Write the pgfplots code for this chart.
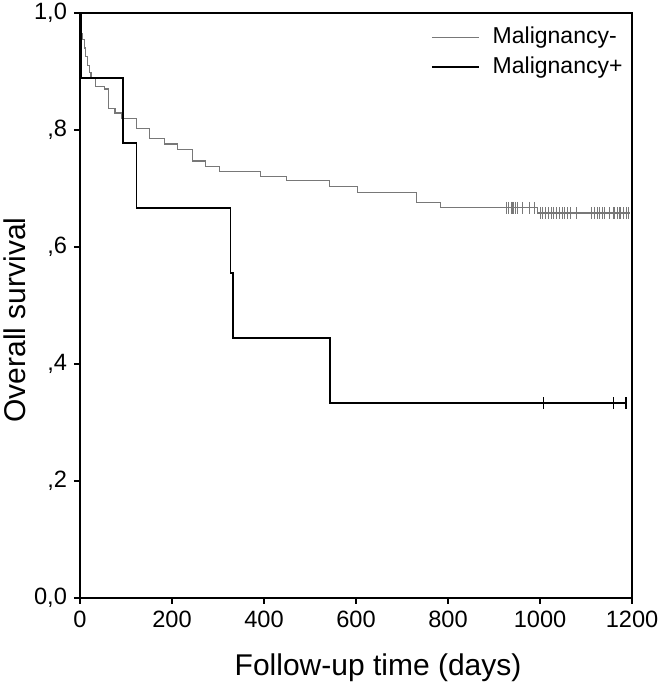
\documentclass[border=0pt]{standalone}
\usepackage{pgfplots}
\pgfplotsset{compat=1.18}
\usepackage{fontspec}
\setmainfont{Liberation Sans}
\definecolor{kmgray}{RGB}{120,120,120}
\begin{document}
\begin{tikzpicture}
\begin{axis}[
  scale only axis, width=276pt, height=292.5pt,
  xmin=0, xmax=1200, ymin=0, ymax=1,
  xtick={0,200,400,600,800,1000,1200},
  xticklabels={0,200,400,600,800,1000,1200},
  ytick={0,0.2,0.4,0.6,0.8,1},
  yticklabels={{0,0},{,2},{,4},{,6},{,8},{1,0}},
  tick pos=left, tick align=outside, major tick length=3pt,
  every tick/.style={black, line width=1pt},
  axis line style={line width=0.6pt},
  tick label style={font=\fontsize{11.8}{14}\selectfont},
  xlabel={Follow-up time (days)}, ylabel={Overall survival},
  label style={font=\fontsize{15}{18}\selectfont},
  xlabel style={at={(axis description cs:0.54,-0.12)}, anchor=center},
  ylabel style={at={(axis description cs:-0.118,0.475)}, anchor=center},
  legend style={draw=none, fill=none, inner sep=0pt,
    at={(axis description cs:0.635,0.979)}, anchor=north west,
    font=\fontsize{11.5}{14}\selectfont,
    nodes={inner ysep=0pt, inner xsep=3pt, text height=9pt, text depth=2.5pt},
    row sep=3.5pt, column sep=3.5pt},
  legend cell align=left,
  legend image code/.code={\draw[#1] (0pt,0pt) -- (23.5pt,0pt);},
  clip=false,
]
\addplot[const plot, kmgray, line width=0.6pt] coordinates {
(0,1.0) (2,0.965) (5,0.955) (9,0.94) (12,0.925) (16,0.91) (20,0.898)
(24,0.888) (33,0.875) (53,0.870) (62,0.837) (76,0.829) (91,0.820)
(123,0.803) (151,0.786) (183,0.776) (212,0.767) (245,0.747) (272,0.738)
(303,0.729) (393,0.721) (449,0.713) (543,0.703) (603,0.693) (732,0.676)
(783,0.667) (994,0.658) (1196,0.658)
};
\addlegendentry{Malignancy-}
\addplot[const plot, black, line width=0.9pt] coordinates {
(0,1.0) (3,0.889) (93,0.778) (123,0.667) (327,0.556) (333,0.444)
(543,0.333) (1187,0.333)
};
\addlegendentry{Malignancy+}
\addplot[only marks, mark=|, mark size=3pt, kmgray, forget plot,
  mark options={line width=0.5pt}] coordinates {
(928,0.667) (932,0.667) (937,0.667) (940,0.667) (943,0.667) (946,0.667)
(950,0.667) (963,0.667) (978,0.667) (987,0.667)
(1000,0.658) (1006,0.658) (1012,0.658) (1018,0.658) (1025,0.658)
(1030,0.658) (1036,0.658) (1042,0.658) (1048,0.658) (1054,0.658)
(1060,0.658) (1067,0.658) (1080,0.658) (1113,0.658) (1118,0.658)
(1124,0.658) (1130,0.658) (1135,0.658) (1141,0.658) (1152,0.658)
(1159,0.658) (1163,0.658) (1168,0.658) (1172,0.658) (1176,0.658)
(1181,0.658) (1187,0.658) (1193,0.658)
};
\addplot[only marks, mark=|, mark size=3pt, black, forget plot,
  mark options={line width=0.6pt}] coordinates {
(1007,0.333) (1159,0.333) (1187,0.333)
};
\coordinate (SW) at (rel axis cs:0,0);
\coordinate (NE) at (rel axis cs:1,1);
\end{axis}
\pgfresetboundingbox
\path ([xshift=-40pt,yshift=-50pt]SW) rectangle ([xshift=14pt,yshift=6.5pt]NE);
\end{tikzpicture}
\end{document}
